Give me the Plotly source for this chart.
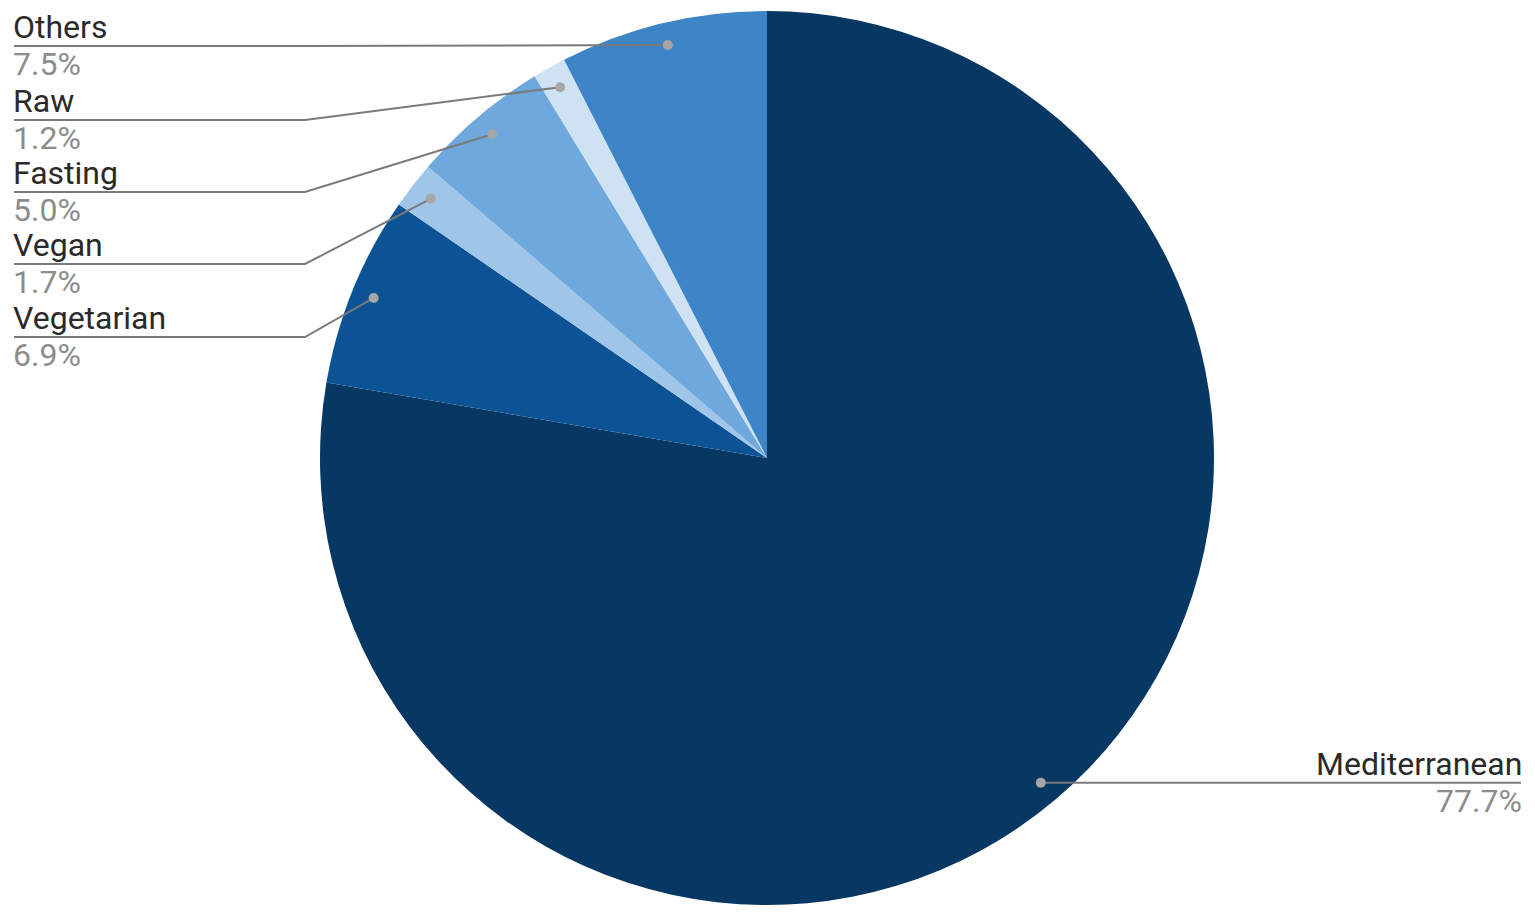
import numpy as np
import plotly.graph_objects as go

# ---- data ----
labels = ["Mediterranean", "Vegetarian", "Vegan", "Fasting", "Raw", "Others"]
values = [77.7, 6.9, 1.7, 5.0, 1.2, 7.5]
colors = ["#073763", "#0b5394", "#9fc5e8", "#6fa8dc", "#cfe2f3", "#3d85c6"]

OFF = 8                              # page body margin
W, H = 1535 - 2 * OFF, 917 - 2 * OFF
CX, CY, R = 767 - OFF, 458 - OFF, 447   # pie centre / radius in px (figure coords)
DOT_R = 0.95 * R

def px(x):
    return x / W

def py(y):
    return 1 - y / H

fig = go.Figure(go.Pie(
    labels=labels, values=values, sort=False, direction="clockwise", rotation=0,
    marker=dict(colors=colors, line=dict(width=0)),
    textinfo="none", hoverinfo="label+percent", showlegend=False,
    domain=dict(x=[px(CX - R), px(CX + R)], y=[py(CY + R), py(CY - R)]),
))

vals = np.array(values)
pct = vals / vals.sum()
cum = np.cumsum(pct) - pct / 2
ang = cum * 2 * np.pi
dot_x = CX + DOT_R * np.sin(ang)
dot_y = CY - DOT_R * np.cos(ang)

shapes = []
annotations = []
LINE_C = "#7a7a7a"
DOT_C = "#a6a6a6"
NAME_C = "#2a2a2a"
PCT_C = "#8c8c8c"
FS = 32

left_order = ["Others", "Raw", "Fasting", "Vegan", "Vegetarian"]
left_y = [y - OFF for y in [46, 120, 192, 264, 337]]
ELBOW_X, LEFT_X, TEXT_X = 305 - OFF, 14 - OFF, 12 - OFF

for name, ly in zip(left_order, left_y):
    i = labels.index(name)
    dx, dy = dot_x[i], dot_y[i]
    shapes.append(dict(type="path", xref="paper", yref="paper",
                       path=f"M {px(dx)},{py(dy)} L {px(ELBOW_X)},{py(ly)} L {px(LEFT_X)},{py(ly)}",
                       line=dict(color=LINE_C, width=2)))
    shapes.append(dict(type="circle", xref="paper", yref="paper",
                       x0=px(dx - 5), x1=px(dx + 5), y0=py(dy + 5), y1=py(dy - 5),
                       fillcolor=DOT_C, line=dict(width=0)))
    annotations.append(dict(x=px(TEXT_X), y=py(ly + 1), xref="paper", yref="paper",
                            text=name, showarrow=False, xanchor="left", yanchor="bottom",
                            borderpad=0,
                            font=dict(size=FS, color=NAME_C, family="Roboto")))
    annotations.append(dict(x=px(TEXT_X), y=py(ly - 2), xref="paper", yref="paper",
                            text=f"{values[i]:.1f}%", showarrow=False, xanchor="left", yanchor="top",
                            borderpad=0,
                            font=dict(size=FS, color=PCT_C, family="Roboto")))

i = 0
dx, dy = dot_x[i], dot_y[i]
RIGHT_X = 1521 - OFF
shapes.append(dict(type="line", xref="paper", yref="paper",
                   x0=px(dx), y0=py(dy), x1=px(RIGHT_X), y1=py(dy),
                   line=dict(color=LINE_C, width=2)))
shapes.append(dict(type="circle", xref="paper", yref="paper",
                   x0=px(dx - 5), x1=px(dx + 5), y0=py(dy + 5), y1=py(dy - 5),
                   fillcolor=DOT_C, line=dict(width=0)))
annotations.append(dict(x=px(RIGHT_X + 2), y=py(dy + 1), xref="paper", yref="paper",
                        text=labels[i], showarrow=False, xanchor="right", yanchor="bottom",
                        borderpad=0,
                        font=dict(size=FS, color=NAME_C, family="Roboto")))
annotations.append(dict(x=px(RIGHT_X + 2), y=py(dy - 2), xref="paper", yref="paper",
                        text=f"{values[i]:.1f}%", showarrow=False, xanchor="right", yanchor="top",
                        borderpad=0,
                        font=dict(size=FS, color=PCT_C, family="Roboto")))

fig.update_layout(
    width=W, height=H, margin=dict(l=0, r=0, t=0, b=0),
    paper_bgcolor="white", plot_bgcolor="white",
    shapes=shapes, annotations=annotations,
)

fig.write_html("out.html")
